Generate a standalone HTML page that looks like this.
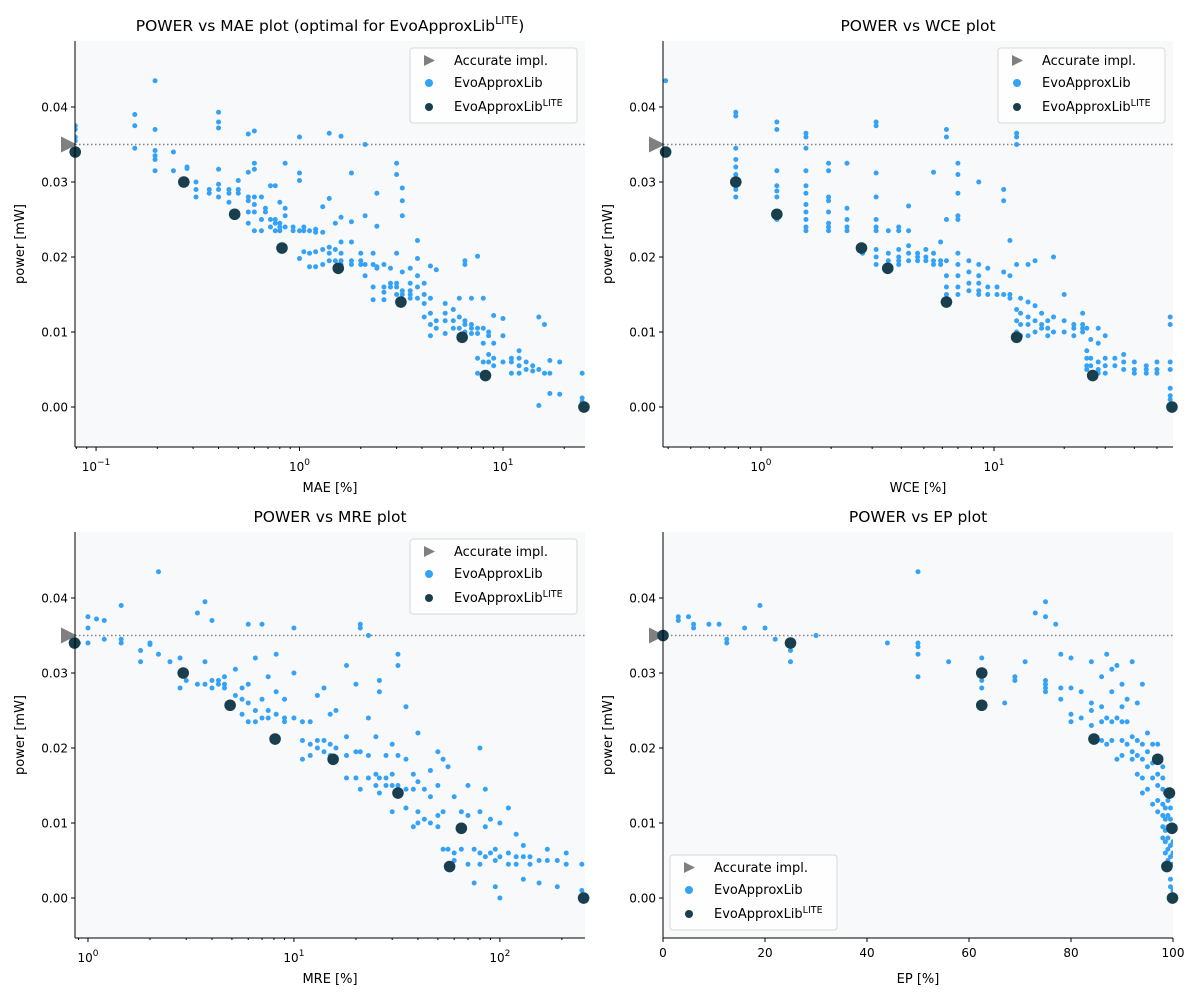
<!DOCTYPE html>
<html><head><meta charset="utf-8">
<style>
html,body{margin:0;padding:0;background:#fff;}
svg{display:block;font-family:"DejaVu Sans","Liberation Sans",sans-serif;}
</style></head>
<body>
<svg id="fig" width="1200" height="1000" viewBox="0 0 1200 1000" xmlns="http://www.w3.org/2000/svg"></svg>
<script>
// ---------- DATA ----------
const maeCloud = [
[0.079,[0.037,0.036,0.0355,0.0375]],[0.155,[0.039,0.0375,0.0345]],[0.195,[0.0435,0.037,0.0342,0.0335,0.033,0.0315]],
[0.24,[0.034,0.0315]],[0.28,[0.032,0.0318]],[0.31,[0.030,0.029,0.028]],[0.36,[0.029,0.0285]],
[0.4,[0.0393,0.038,0.0372,0.0317,0.0297,0.029,0.028]],[0.45,[0.029,0.0285,0.0273]],[0.5,[0.0302,0.029,0.0285]],
[0.56,[0.0364,0.0313,0.028,0.0275,0.026,0.0245]],[0.6,[0.0368,0.0325,0.0317,0.028,0.027,0.026,0.0235]],
[0.65,[0.028,0.025,0.0235]],[0.68,[0.0265,0.026]],[0.72,[0.0295,0.025,0.024]],[0.76,[0.0295,0.025,0.0245,0.0235]],
[0.8,[0.0273,0.0245,0.024,0.0235]],[0.85,[0.0325,0.0265,0.0255,0.024]],[0.93,[0.024,0.0235]],
[1.0,[0.036,0.0312,0.0302,0.0235,0.0198]],[1.05,[0.024,0.0235,0.0207]],[1.12,[0.0235,0.0205,0.0187]],
[1.2,[0.0237,0.0233,0.0207,0.0187]],[1.3,[0.0267,0.0233,0.021,0.019]],[1.4,[0.0365,0.0278,0.0213,0.0205,0.0195]],
[1.5,[0.0245,0.021,0.0195]],[1.6,[0.0361,0.0253,0.022,0.0205,0.0195,0.019]],[1.8,[0.0312,0.0247,0.022,0.0195,0.019]],
[2.0,[0.0205,0.0195,0.019]],[2.1,[0.035,0.0255,0.019,0.0175]],[2.3,[0.0205,0.019,0.016,0.0143]],
[2.4,[0.0285,0.0241,0.0187,0.0185]],[2.6,[0.019,0.016,0.0153,0.0143]],[2.8,[0.0185,0.0165,0.016]],
[3.0,[0.0325,0.031,0.0205,0.0165,0.016,0.015]],[3.2,[0.0292,0.0275,0.0255,0.018,0.0155,0.015]],
[3.5,[0.0185,0.0165,0.0155,0.015,0.0145]],[3.8,[0.0222,0.0198,0.0175,0.016,0.0145]],[4.1,[0.0165,0.015,0.0138,0.012]],
[4.4,[0.0188,0.0145,0.0125,0.011,0.0095]],[4.7,[0.0183,0.0115,0.0105]],[5.2,[0.0138,0.0125,0.0115,0.0098]],
[5.7,[0.013,0.0115,0.0105]],[6.1,[0.0145,0.012,0.0105,0.0095]],[6.5,[0.0195,0.019,0.0115,0.011,0.01]],
[7.0,[0.0145,0.011,0.0105,0.0098]],[7.5,[0.0201,0.0105,0.0098,0.0065,0.0045]],[8.0,[0.0145,0.0105,0.0085,0.006,0.0045]],
[8.5,[0.01,0.0095,0.007,0.006]],[9.0,[0.0122,0.0085,0.0065,0.0055]],[10,[0.0118,0.0095,0.006]],
[11,[0.0065,0.006,0.0045]],[12,[0.0075,0.0065,0.0055,0.0045]],[13,[0.006,0.005]],[14,[0.0055,0.0048]],
[15,[0.012,0.005,0.0002]],[16,[0.011,0.0045]],[17,[0.0062,0.0045,0.0018]],[19,[0.006,0.0017]],[24.5,[0.0045,0.0012,0.0007]]
];
const maeLite = [[0.079,0.034],[0.27,0.030],[0.48,0.0257],[0.82,0.0212],[1.55,0.0185],[3.15,0.014],[6.3,0.0093],[8.2,0.0042],[25,0.0]];

const wceCloud = [
[0.39,[0.0435,0.034]],[0.78,[0.0393,0.0388,0.0345,0.033,0.032,0.031,0.030,0.029,0.028]],
[1.17,[0.038,0.037,0.0315,0.0295,0.0288,0.028,0.026,0.025]],
[1.56,[0.0365,0.036,0.0345,0.0315,0.0295,0.0285,0.027,0.026,0.025,0.024,0.0235]],
[1.95,[0.0325,0.0315,0.028,0.0275,0.026,0.0245,0.024,0.0235]],[2.34,[0.0325,0.0265,0.025,0.024,0.0235]],
[2.73,[0.021,0.0205]],[3.12,[0.038,0.0375,0.0312,0.028,0.025,0.024,0.0235,0.021,0.020,0.019]],
[3.52,[0.0235,0.0205,0.0195]],[3.9,[0.024,0.0235,0.021,0.020,0.0195,0.019]],[4.3,[0.0268,0.0235,0.0215,0.0205,0.0195]],
[4.7,[0.0205,0.020,0.0195]],[5.1,[0.021,0.020,0.0195]],[5.5,[0.0313,0.0205,0.0195,0.019]],[5.9,[0.022,0.0195,0.019]],
[6.25,[0.037,0.036,0.025,0.0195,0.0175,0.016,0.015]],[7.0,[0.0325,0.031,0.0285,0.0255,0.025,0.0205,0.019,0.0175,0.016,0.015]],
[7.8,[0.0195,0.018,0.0165,0.0155]],[8.6,[0.030,0.019,0.0175,0.0165,0.0155,0.015]],[9.4,[0.0185,0.016,0.015]],
[10.3,[0.016,0.015]],[11,[0.029,0.0275,0.018,0.015]],[11.7,[0.0222,0.0175,0.015,0.0145]],
[12.5,[0.0365,0.036,0.035,0.019,0.013,0.0115,0.010]],[13,[0.0145,0.0125,0.011,0.0095]],
[14,[0.019,0.014,0.012,0.011,0.0095]],[15,[0.0195,0.0135,0.0115,0.010]],[16,[0.0125,0.011,0.0105]],
[17,[0.0115,0.0105,0.0095]],[18,[0.020,0.012,0.010]],[20,[0.015,0.0115,0.010]],[22,[0.011,0.0105,0.0095]],
[24,[0.0125,0.011,0.0105,0.010]],[25,[0.0105,0.0075,0.0065,0.0055,0.005]],[26,[0.009,0.0065,0.0055,0.0045]],
[28,[0.0105,0.0085,0.006,0.005,0.0045]],[30,[0.0095,0.0065,0.0055,0.0045]],[33,[0.0065,0.0055]],
[36,[0.007,0.006,0.005]],[40,[0.006,0.005,0.0045]],[45,[0.0055,0.005,0.0045]],[50,[0.006,0.005,0.0045]],
[57,[0.012,0.011,0.006,0.005,0.0025,0.0015,0.001]]
];
const wceLite = [[0.39,0.034],[0.78,0.030],[1.17,0.0257],[2.7,0.0212],[3.5,0.0185],[6.25,0.014],[12.5,0.0093],[26.5,0.0042],[58,0.0]];

const mreCloud = [
[0.9,[0.034]],[1.0,[0.0375,0.036,0.034]],[1.1,[0.0372]],[1.2,[0.037,0.0345]],[1.45,[0.039,0.0345,0.034]],
[1.8,[0.0315,0.033]],[2.0,[0.034,0.0338]],[2.2,[0.0435,0.0325]],[2.5,[0.0315]],[2.8,[0.032,0.030,0.028]],
[3.0,[0.029]],[3.4,[0.038,0.0285]],[3.7,[0.0395,0.0315,0.0285]],[4.0,[0.037,0.029,0.028]],[4.3,[0.029,0.0285]],
[4.6,[0.0295,0.0285,0.028]],[5.2,[0.0305,0.027]],[5.6,[0.028,0.0265,0.0245]],[6,[0.0365,0.0285,0.026,0.0235]],
[6.5,[0.032,0.025,0.0235]],[7,[0.0365,0.0265,0.024]],[7.5,[0.0295,0.025,0.024]],[8.2,[0.0325,0.0275,0.0245]],
[9,[0.0265,0.024,0.0235]],[10,[0.036,0.030,0.024]],[11,[0.0235,0.021,0.0185]],[12,[0.0235,0.0205,0.019]],
[13,[0.027,0.021,0.020]],[14,[0.028,0.021,0.0195]],[15,[0.0245,0.0205,0.019]],[16,[0.025,0.020,0.0185]],
[18,[0.031,0.0215,0.019,0.016]],[20,[0.0285,0.0195,0.016]],[21,[0.0365,0.036,0.0195,0.0145]],
[23,[0.035,0.024,0.019,0.016]],[25,[0.0215,0.0165,0.015]],[26,[0.0275,0.029,0.016,0.014]],[28,[0.019,0.016,0.015]],
[30,[0.0205,0.0165,0.015,0.0115]],[32,[0.0325,0.031,0.019,0.015]],[35,[0.0255,0.0185,0.0145,0.012]],
[38,[0.0165,0.0145,0.0095]],[40,[0.022,0.0155,0.0115,0.010]],[43,[0.0145,0.0105]],[46,[0.017,0.0135,0.010]],
[50,[0.0195,0.015,0.011,0.0095]],[53,[0.0185,0.0115,0.0065]],[56,[0.0175,0.0065,0.0045]],[60,[0.0135,0.006,0.005]],
[65,[0.0115,0.0095,0.0065]],[70,[0.015,0.011,0.0045]],[75,[0.0065,0.002]],[80,[0.020,0.0115,0.006,0.0045]],
[85,[0.0145,0.0095,0.0055]],[90,[0.0105,0.006]],[95,[0.0065,0.005,0.0015]],[100,[0.01,0.0055,0.0]],
[110,[0.012,0.006,0.0045]],[120,[0.0085,0.0055,0.0045]],[130,[0.007,0.0055,0.0025]],[140,[0.0055,0.0045]],
[155,[0.005,0.002]],[170,[0.0065,0.005]],[190,[0.005,0.0015]],[210,[0.0045,0.006]],[250,[0.0045,0.001]]
];
const mreLite = [[0.86,0.034],[2.9,0.030],[4.9,0.0257],[8.1,0.0212],[15.5,0.0185],[32,0.014],[65,0.0093],[57,0.0042],[255,0.0]];

const epCloud = [
[3,[0.0375,0.037]],[5,[0.0375]],[6,[0.0365,0.036]],[9,[0.0365]],[11,[0.0365]],[12.5,[0.0345,0.034]],[16,[0.036]],
[19,[0.039]],[20,[0.036]],[22,[0.0345]],[25,[0.033,0.0315]],[30,[0.035]],[44,[0.034]],
[50,[0.0435,0.034,0.0335,0.0325,0.0295]],[56,[0.0315]],[62.5,[0.032,0.029,0.028]],[67,[0.026]],[69,[0.0295,0.029]],
[71,[0.0315]],[73,[0.038]],[75,[0.0395,0.0375,0.029,0.0285,0.028,0.0275]],[77,[0.0365]],[78,[0.0325,0.028,0.0265]],
[80,[0.032,0.028,0.0245,0.0235]],[82,[0.0275,0.024]],[84,[0.0315,0.026,0.025,0.023]],[86,[0.0295,0.0255,0.0235,0.021]],
[87,[0.0325,0.024,0.0205]],[88,[0.0305,0.0275,0.0235,0.021]],[89,[0.031,0.024,0.0185]],
[90,[0.0285,0.0255,0.0235,0.021,0.019]],[91,[0.0265,0.0235,0.0205]],[92,[0.0315,0.0215,0.0195,0.0185]],
[93,[0.026,0.021,0.019,0.0165]],[94,[0.0285,0.0205,0.0185,0.016,0.014]],[95,[0.022,0.0195,0.0175,0.0145]],
[96,[0.0205,0.018,0.016,0.0125]],[97,[0.0205,0.0185,0.0165,0.015,0.013,0.0115]],
[98,[0.0175,0.016,0.0145,0.0125,0.011,0.0095,0.008]],[98.5,[0.014,0.012,0.0105,0.009,0.0075,0.006]],
[99,[0.013,0.011,0.0095,0.008,0.0065,0.005,0.004]],[99.5,[0.012,0.0105,0.009,0.007,0.0055,0.0045,0.0025,0.0015]],
[100,[0.0075,0.006,0.0045,0.001]]
];
const epLite = [[0,0.035],[25,0.034],[62.5,0.030],[62.5,0.0257],[84.5,0.0212],[97,0.0185],[99.3,0.014],[99.8,0.0093],[98.8,0.0042],[99.9,0.0]];

const yTicks = [0.00,0.01,0.02,0.03,0.04];
const accuratePower = 0.035;

// ---------- DRAW ----------
const NS = "http://www.w3.org/2000/svg";
const fig = document.getElementById('fig');
function mk(tag, attrs, parent){ const e=document.createElementNS(NS,tag); for(const k in attrs) e.setAttribute(k,attrs[k]); (parent||fig).appendChild(e); return e; }

const panels = [
 {key:'mae', x0:75,x1:585,y0:41,y1:447, log:true, xmin:0.0788,xmax:25.3, cloud:maeCloud, lite:maeLite, xlabel:'MAE [%]', title:'POWER vs MAE plot (optimal for EvoApproxLib', titleSup:true, legend:'tr', xdec:[-1,0,1]},
 {key:'wce', x0:663,x1:1173,y0:41,y1:447, log:true, xmin:0.38,xmax:58.6, cloud:wceCloud, lite:wceLite, xlabel:'WCE [%]', title:'POWER vs WCE plot', legend:'tr', xdec:[0,1]},
 {key:'mre', x0:75,x1:585,y0:532,y1:938, log:true, xmin:0.865,xmax:259, cloud:mreCloud, lite:mreLite, xlabel:'MRE [%]', title:'POWER vs MRE plot', legend:'tr', xdec:[0,1,2]},
 {key:'ep', x0:663,x1:1173,y0:532,y1:938, log:false, xmin:0,xmax:100, cloud:epCloud, lite:epLite, xlabel:'EP [%]', title:'POWER vs EP plot', legend:'bl', xlin:[0,20,40,60,80,100]}
];
const ymin=-0.00533, ymax=0.0488;

panels.forEach(p=>{
  const g = mk('g',{});
  
  
  const sx = v => p.log ? p.x0+(Math.log10(v)-Math.log10(p.xmin))/(Math.log10(p.xmax)-Math.log10(p.xmin))*(p.x1-p.x0)
                        : p.x0+(v-p.xmin)/(p.xmax-p.xmin)*(p.x1-p.x0);
  const sy = v => p.y1-(v-ymin)/(ymax-ymin)*(p.y1-p.y0);
  const bg = mk('rect',{x:p.x0,y:p.y0,width:p.x1-p.x0,height:p.y1-p.y0,fill:'#f8f9fb'},g);
  
  
  const clipId='clip-'+p.key;
  const cp = mk('clipPath',{id:clipId},g); mk('rect',{x:p.x0,y:p.y0,width:p.x1-p.x0,height:p.y1-p.y0},cp);
  const plot = mk('g',{'clip-path':'url(#'+clipId+')'},g);
  const rl = mk('line',{x1:p.x0,x2:p.x1,y1:sy(accuratePower),y2:sy(accuratePower),stroke:'#808080','stroke-width':1.5,'stroke-dasharray':'1.5,2.5'},plot);
  
  
  p.cloud.forEach(grp=>{ grp[1].forEach(v=>{
    const c = mk('circle',{cx:sx(grp[0]),cy:sy(v),r:2.5,fill:'#34a2f6'},plot);
    
    
  });});
  // accurate triangle
  const ty=sy(accuratePower), tx=p.x0-7;
  const tri = mk('polygon',{points:`${tx-7},${ty-8} ${tx+9},${ty} ${tx-7},${ty+8}`,fill:'#808080'},g);
  
  
  // lite (not clipped)
  p.lite.forEach(d=>{
    const c = mk('circle',{cx:sx(d[0]),cy:sy(d[1]),r:5.8,fill:'#193f4f'},g);
    
    
  });
  // spines
  mk('line',{x1:p.x0,x2:p.x0,y1:p.y0,y2:p.y1,stroke:'#000','stroke-width':1},g);
  mk('line',{x1:p.x0,x2:p.x1,y1:p.y1,y2:p.y1,stroke:'#000','stroke-width':1},g);
  yTicks.forEach(t=>{
    const y=sy(t);
    mk('line',{x1:p.x0-4,x2:p.x0,y1:y,y2:y,stroke:'#000'},g);
    const tx=mk('text',{x:p.x0-7,y:y+4.5,'text-anchor':'end','font-size':12,fill:'#000'},g);
    tx.textContent=t.toFixed(2);
    
    
  });
  if(p.log){
    const dlo=Math.floor(Math.log10(p.xmin)), dhi=Math.ceil(Math.log10(p.xmax));
    for(let d=dlo; d<=dhi; d++){ for(let m=2;m<=9;m++){ const v=m*Math.pow(10,d); if(v>p.xmin&&v<p.xmax){ const x=sx(v); mk('line',{x1:x,x2:x,y1:p.y1,y2:p.y1+2,stroke:'#000'},g);} } }
    p.xdec.forEach(d=>{
      const x=sx(Math.pow(10,d));
      mk('line',{x1:x,x2:x,y1:p.y1,y2:p.y1+4,stroke:'#000'},g);
      const t=mk('text',{x:x,y:p.y1+24,'text-anchor':'middle','font-size':12},g);
      
      
      const a=mk('tspan',{},t); a.textContent='10';
      const b=mk('tspan',{dy:-6,'font-size':9},t); b.textContent=(d<0?'\u2212':'')+Math.abs(d);
    });
  } else {
    p.xlin.forEach(v=>{
      const x=sx(v);
      mk('line',{x1:x,x2:x,y1:p.y1,y2:p.y1+4,stroke:'#000'},g);
      const t=mk('text',{x:x,y:p.y1+19,'text-anchor':'middle','font-size':12},g);
      t.textContent=v;
      
      
    });
  }
  const xl=mk('text',{x:(p.x0+p.x1)/2,y:p.y1+45,'text-anchor':'middle','font-size':13},g);
  xl.textContent=p.xlabel;
  
  
  const ylx=p.x0-51, yly=(p.y0+p.y1)/2;
  const yl=mk('text',{x:ylx,y:yly,'text-anchor':'middle','font-size':13,transform:`rotate(-90 ${ylx} ${yly})`},g);
  yl.textContent='power [mW]';
  
  
  const tt=mk('text',{x:(p.x0+p.x1)/2,y:p.y0-10,'text-anchor':'middle','font-size':15.5},g);
  
  
  const t1=mk('tspan',{},tt); t1.textContent=p.title;
  if(p.titleSup){ const s=mk('tspan',{dy:-7,'font-size':11},tt); s.textContent='LITE'; const e=mk('tspan',{dy:7},tt); e.textContent=')'; }
  const lw=167, lh=75;
  const lx = p.legend==='tr' ? p.x1-8-lw : p.x0+7;
  const ly = p.legend==='tr' ? p.y0+7 : p.y1-8-lh;
  const lg=mk('g',{},g);
  
  
  mk('rect',{x:lx,y:ly,width:lw,height:lh,rx:3,fill:'#fff','fill-opacity':0.85,stroke:'#d8d8d8'},lg);
  const mx=lx+19, txx=lx+44;
  mk('polygon',{points:`${mx-5},${ly+7} ${mx+6},${ly+12.5} ${mx-5},${ly+18}`,fill:'#808080'},lg);
  mk('circle',{cx:mx,cy:ly+35,r:4,fill:'#34a2f6'},lg);
  mk('circle',{cx:mx,cy:ly+59,r:4,fill:'#193f4f'},lg);
  const e1=mk('text',{x:txx,y:ly+17,'font-size':13},lg); e1.textContent='Accurate impl.';
   
  const e2=mk('text',{x:txx,y:ly+39,'font-size':13},lg); e2.textContent='EvoApproxLib';
   
  const e3=mk('text',{x:txx,y:ly+63,'font-size':13},lg);
   
  const a3=mk('tspan',{},e3); a3.textContent='EvoApproxLib';
  const b3=mk('tspan',{dy:-5,'font-size':9.5},e3); b3.textContent='LITE';
});
</script>
</body></html>
